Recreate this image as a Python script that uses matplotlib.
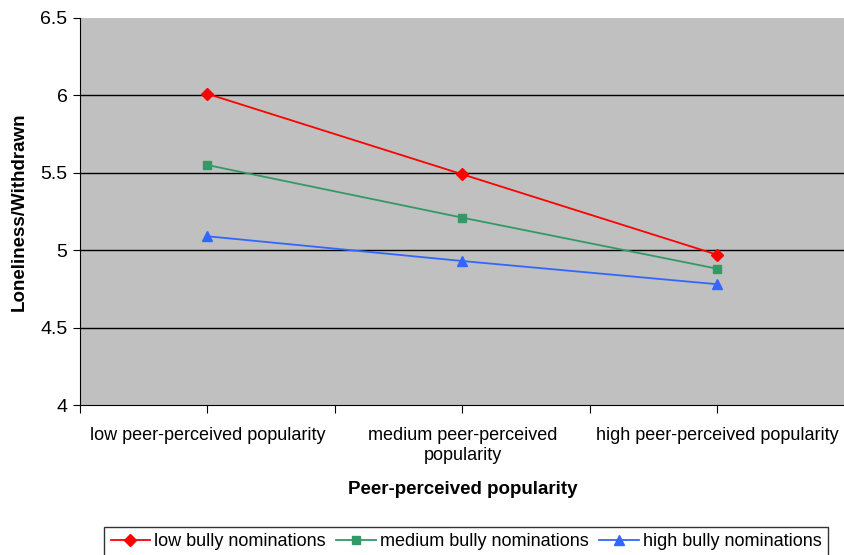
import matplotlib
matplotlib.use("Agg")
import matplotlib.pyplot as plt

plt.rcParams["font.family"] = ["Liberation Sans", "DejaVu Sans"]

categories = ["low peer-perceived popularity", "medium peer-perceived\npopularity",
              "high peer-perceived popularity"]
series_names = ["low bully nominations", "medium bully nominations", "high bully nominations"]
low_bully = [6.01, 5.49, 4.97]
medium_bully = [5.55, 5.21, 4.88]
high_bully = [5.09, 4.93, 4.78]

colors = ["#FF0000", "#339966", "#3366FF"]
markers = ["D", "s", "^"]
msizes = [6, 6, 7]

fig = plt.figure(figsize=(8.45, 5.55), dpi=100)
ax = fig.add_axes([80 / 845, 1 - 405 / 555, 765 / 845, 387 / 555])
ax.set_facecolor("#C0C0C0")

x = range(len(categories))
for vals, name, c, m, ms in zip([low_bully, medium_bully, high_bully], series_names, colors, markers, msizes):
    ax.plot(x, vals, color=c, marker=m, markersize=ms, linewidth=1.3, label=name)

ax.set_xlim(-0.5, 2.5)
ax.set_ylim(4, 6.5)
ax.set_yticks([4, 4.5, 5, 5.5, 6, 6.5])
ax.set_yticklabels(["4", "4.5", "5", "5.5", "6", "6.5"], fontsize=14)
for yv in [4.5, 5, 5.5, 6]:
    ax.axhline(yv, color="black", linewidth=1, zorder=1)

ax.set_xticks([-0.5, 0, 0.5, 1, 1.5, 2, 2.5])
ax.set_xticklabels(["", categories[0], "", categories[1], "", categories[2], ""], fontsize=13,
                   linespacing=1.25)
ax.tick_params(axis="x", length=6, pad=10, color="black")
ax.tick_params(axis="y", length=5, pad=4)

for side in ["top", "right"]:
    ax.spines[side].set_visible(False)
for side in ["left", "bottom"]:
    ax.spines[side].set_color("black")

ax.set_ylabel("Loneliness/Withdrawn", fontsize=13.5, fontweight="bold", labelpad=9)
ax.set_xlabel("Peer-perceived popularity", fontsize=13.5, fontweight="bold", labelpad=12)

leg = fig.legend(loc="upper center", bbox_to_anchor=(466 / 845, 1 - 527 / 555), ncol=3,
                 fontsize=13, frameon=True, fancybox=False, edgecolor="black",
                 handlelength=2.2, columnspacing=0.6, handletextpad=0.2, borderpad=0.35,
                 borderaxespad=0)
leg.get_frame().set_linewidth(1)

fig.savefig("out.png", dpi=100)
